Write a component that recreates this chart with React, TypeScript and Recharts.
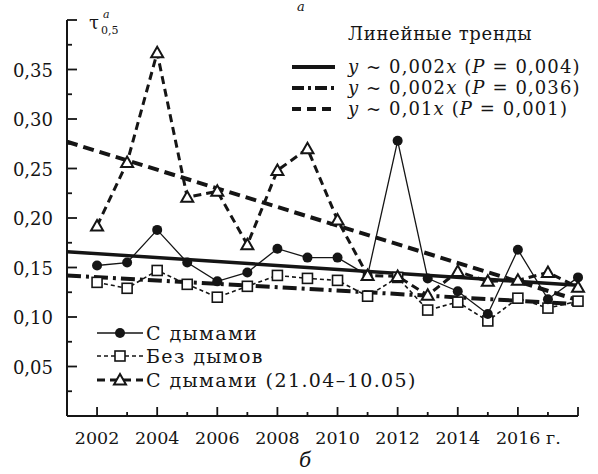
import { ComposedChart, Line, XAxis, YAxis } from 'recharts';

const years = [2002, 2003, 2004, 2005, 2006, 2007, 2008, 2009, 2010, 2011, 2012, 2013, 2014, 2015, 2016, 2017, 2018];
const withSmoke = [0.152, 0.155, 0.188, 0.155, 0.136, 0.145, 0.169, 0.160, 0.160, 0.142, 0.278, 0.139, 0.126, 0.103, 0.168, 0.118, 0.140];
const withoutSmoke = [0.135, 0.129, 0.147, 0.133, 0.120, 0.131, 0.142, 0.139, 0.137, 0.121, 0.140, 0.107, 0.115, 0.096, 0.119, 0.109, 0.116];
const smokeSpring = [0.192, 0.256, 0.367, 0.221, 0.227, 0.173, 0.248, 0.270, 0.198, 0.142, 0.141, 0.122, 0.146, 0.136, 0.137, 0.145, 0.130];

const trendYears = [2001, 2018];
const trendWith = [0.166, 0.132];
const trendWithout = [0.142, 0.113];
const trendSpring = [0.277, 0.117];

const xTicks = [2002, 2003, 2004, 2005, 2006, 2007, 2008, 2009, 2010, 2011, 2012, 2013, 2014, 2015, 2016, 2017, 2018];
const xLabels = [2002, 2004, 2006, 2008, 2010, 2012, 2014, 2016];
const yTicks = [0.025, 0.05, 0.075, 0.1, 0.125, 0.15, 0.175, 0.2, 0.225, 0.25, 0.275, 0.3, 0.325, 0.35, 0.375, 0.4];
const yLabels = ['0,05', '0,10', '0,15', '0,20', '0,25', '0,30', '0,35'];

const FONT = '"DejaVu Serif", serif';
const INK = '#151515';

const toRows = (xs: number[], vs: number[]) => xs.map((year, i) => ({ year, v: vs[i] }));

const smokeRows = toRows(years, withSmoke);
const noSmokeRows = toRows(years, withoutSmoke);
const springRows = toRows(years, smokeSpring);

const CircleDot = (p: any) =>
  p.cx == null ? null : <circle key={`c-${p.index}`} cx={p.cx} cy={p.cy} r={5} fill={INK} />;

const SquareDot = (p: any) =>
  p.cx == null ? null : (
    <rect key={`s-${p.index}`} x={p.cx - 5} y={p.cy - 5} width={10} height={10} fill="#fff" stroke={INK} strokeWidth={1.6} />
  );

const TriDot = (p: any) =>
  p.cx == null ? null : (
    <path
      key={`t-${p.index}`}
      d={`M${p.cx},${p.cy - 6} L${p.cx + 6},${p.cy + 4.5} L${p.cx - 6},${p.cy + 4.5} Z`}
      fill="#fff"
      stroke={INK}
      strokeWidth={2}
    />
  );

const XTick = (p: any) => {
  const year = p.payload.value;
  const major = year % 2 === 0;
  const labelled = xLabels.includes(year);
  return (
    <g>
      <line x1={p.x} x2={p.x} y1={p.y} y2={p.y - (major ? 9 : 4)} stroke={INK} strokeWidth={1.8} />
      {labelled && (
        <text
          x={year === 2016 ? p.x - 22 : p.x}
          y={p.y + 28}
          textAnchor={year === 2016 ? 'start' : 'middle'}
          fontFamily={FONT}
          fontSize={17.5}
          fill={INK}
        >
          {year === 2016 ? '2016 г.' : year}
        </text>
      )}
    </g>
  );
};

const YTick = (p: any) => {
  const v = p.payload.value;
  const label = v.toFixed(2).replace('.', ',');
  const major = Math.abs(v * 20 - Math.round(v * 20)) < 1e-6;
  return (
    <g>
      <line x1={p.x} x2={p.x + (major ? 10 : 5)} y1={p.y} y2={p.y} stroke={INK} strokeWidth={1.8} />
      {yLabels.includes(label) && (
        <text x={p.x - 14} y={p.y + 7} textAnchor="end" fontFamily={FONT} fontSize={18} fill={INK}>
          {label}
        </text>
      )}
    </g>
  );
};

const It = ({ children }: { children: string }) => <tspan fontStyle="italic">{children}</tspan>;

const Overlay = () => (
  <svg width={598} height={474} style={{ position: 'absolute', left: 0, top: 0, pointerEvents: 'none' }}>
    <g fontFamily={FONT} fill={INK}>
      <text x={297} y={11} fontSize={13} fontStyle="italic">а</text>
      <text x={89} y={29} fontSize={18}>τ</text>
      <text x={101} y={34} fontSize={11}>0,5</text>
      <text x={103} y={18} fontSize={11} fontStyle="italic">a</text>

      <g fontSize={18} letterSpacing={1.1}>
        <text x={348} y={40} letterSpacing={0.7}>Линейные тренды</text>
        <text x={348} y={73}>
          <It>y</It> ~ 0,002<It>x</It> (<It>P</It> = 0,004)
        </text>
        <text x={348} y={94}>
          <It>y</It> ~ 0,002<It>x</It> (<It>P</It> = 0,036)
        </text>
        <text x={348} y={115}>
          <It>y</It> ~ 0,01<It>x</It> (<It>P</It> = 0,001)
        </text>
      </g>
      <line x1={292} x2={335} y1={67} y2={67} stroke={INK} strokeWidth={4} />
      <line x1={292} x2={335} y1={88} y2={88} stroke={INK} strokeWidth={4} strokeDasharray="12 4 3 4" />
      <line x1={292} x2={335} y1={109} y2={109} stroke={INK} strokeWidth={4} strokeDasharray="9 6" />

      <line x1={97} x2={143} y1={333} y2={333} stroke={INK} strokeWidth={1.4} />
      <circle cx={120} cy={333} r={5} fill={INK} />
      <line x1={97} x2={143} y1={356} y2={356} stroke={INK} strokeWidth={1.6} strokeDasharray="4 3" />
      <rect x={115} y={351} width={10} height={10} fill="#fff" stroke={INK} strokeWidth={1.6} />
      <line x1={97} x2={143} y1={380} y2={380} stroke={INK} strokeWidth={3} strokeDasharray="8 5" />
      <path d="M120,374 L126,384.5 L114,384.5 Z" fill="#fff" stroke={INK} strokeWidth={2} />
      <g fontSize={19} letterSpacing={1.4}>
        <text x={146} y={340}>С дымами</text>
        <text x={146} y={363}>Без дымов</text>
        <text x={146} y={387}>С дымами (21.04–10.05)</text>
      </g>

      <text x={305} y={467} fontSize={20} fontStyle="italic" textAnchor="middle">б</text>
    </g>
  </svg>
);

export default function App() {
  return (
    <div style={{ position: 'absolute', left: 0, top: 0, width: 598, height: 474, background: '#fff' }}>
      <ComposedChart width={598} height={474} margin={{ top: 20, right: 20, bottom: 28, left: 0 }}>
        <XAxis
          dataKey="year"
          type="number"
          domain={[2001, 2018]}
          ticks={xTicks}
          interval={0}
          height={30}
          tickSize={0}
          tickMargin={0}
          tick={XTick}
          axisLine={{ stroke: INK, strokeWidth: 2 }}
          allowDuplicatedCategory={false}
        />
        <YAxis
          type="number"
          domain={[0, 0.4]}
          ticks={yTicks}
          interval={0}
          width={67}
          tickSize={0}
          tickMargin={0}
          tick={YTick}
          axisLine={{ stroke: INK, strokeWidth: 2 }}
        />
        <Line data={toRows(trendYears, trendSpring)} dataKey="v" stroke={INK} strokeWidth={4} strokeDasharray="11 6" dot={false} isAnimationActive={false} />
        <Line data={toRows(trendYears, trendWithout)} dataKey="v" stroke={INK} strokeWidth={4} strokeDasharray="14 5 3 5" dot={false} isAnimationActive={false} />
        <Line data={toRows(trendYears, trendWith)} dataKey="v" stroke={INK} strokeWidth={3.5} dot={false} isAnimationActive={false} />
        <Line data={noSmokeRows} dataKey="v" stroke={INK} strokeWidth={1.6} strokeDasharray="4 3" dot={SquareDot} isAnimationActive={false} />
        <Line data={smokeRows} dataKey="v" stroke={INK} strokeWidth={1.3} dot={CircleDot} isAnimationActive={false} />
        <Line data={springRows} dataKey="v" stroke={INK} strokeWidth={3} strokeDasharray="8 5" dot={TriDot} isAnimationActive={false} />
      </ComposedChart>
      <Overlay />
    </div>
  );
}
